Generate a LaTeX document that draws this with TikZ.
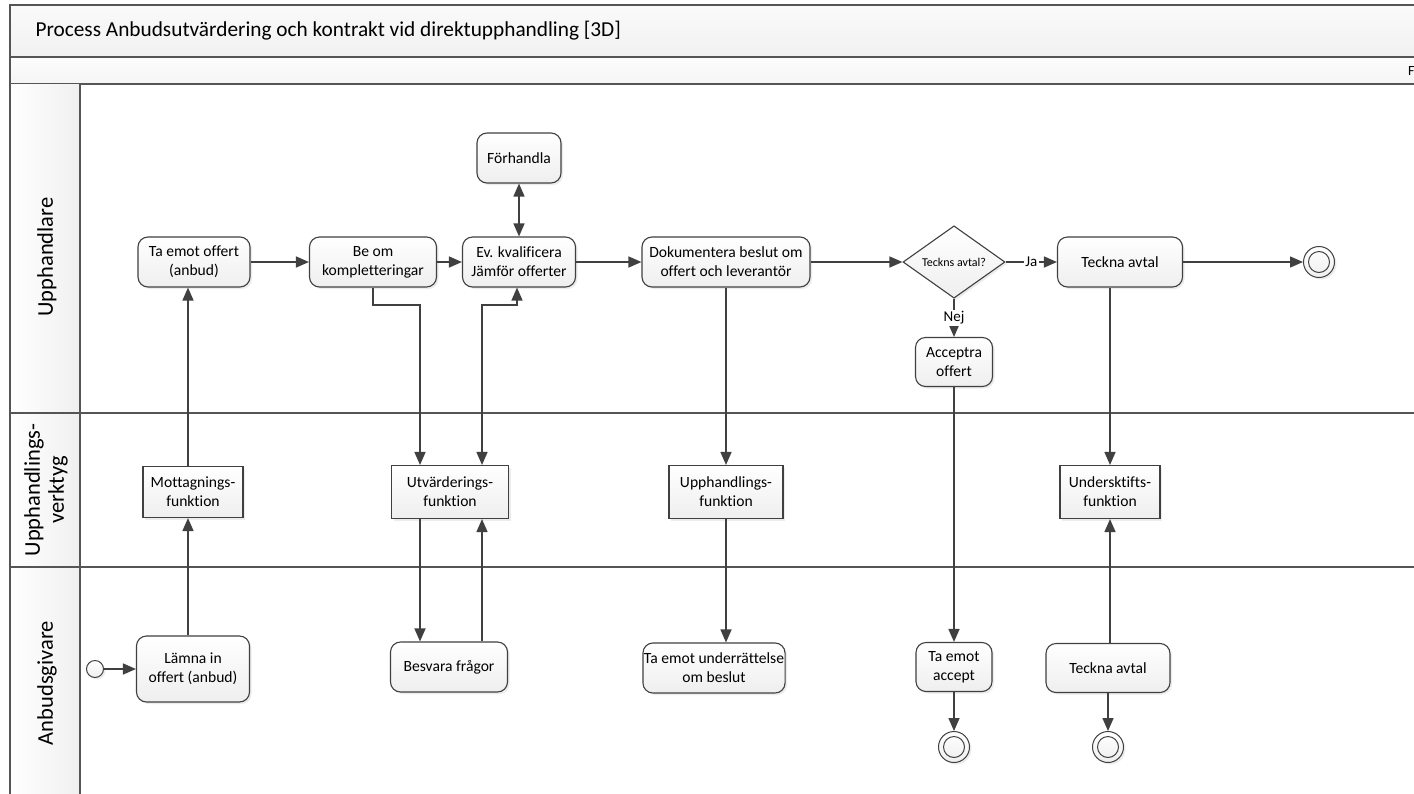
\documentclass[tikz,border=0pt]{standalone}
\usepackage{fontspec}
\setmainfont{Carlito}[Ligatures=NoCommon]
\usetikzlibrary{arrows.meta,shapes.geometric,shadows}
\definecolor{lc}{HTML}{404040}
\definecolor{frame}{HTML}{555555}
\newcommand{\nodefont}{\fontsize{15.6}{19}\selectfont}
\begin{document}
\begin{tikzpicture}[x=1pt,y=-1pt,
  line/.style={draw=lc, line width=1.5pt},
  flow/.style={line, -{Triangle[length=13pt,width=11pt]}},
  both/.style={line, {Triangle[length=13pt,width=11pt]}-{Triangle[length=13pt,width=11pt]}},
  shade/.style={top color=white, bottom color=gray!13,
    drop shadow={shadow xshift=2pt, shadow yshift=-2pt, opacity=0.15, fill=gray}},
  task/.style={draw=lc, line width=1.1pt, rounded corners=10pt, shade,
    align=center, font=\nodefont, inner sep=1pt},
  tool/.style={draw=lc, line width=1.1pt, shade,
    align=center, font=\nodefont, inner sep=2pt},
  gate/.style={draw=lc, line width=1.1pt, diamond, shade, inner sep=0pt,
    font=\fontsize{12}{14}\selectfont},
  endev/.style={draw=lc, line width=1pt, circle, minimum size=31pt, inner sep=0pt, shade,
    path picture={\draw[lc, line width=1pt] (path picture bounding box.center) circle (10.5pt);}},
  startev/.style={draw=lc, line width=1pt, circle, minimum size=17pt, inner sep=0pt, shade},
  lanelabel/.style={rotate=90, align=center, font=\fontsize{22.5}{24}\selectfont},
  flowlabel/.style={fill=white, inner sep=1.5pt, font=\fontsize{15}{17}\selectfont}
]
\useasboundingbox (0,0) rectangle (1414,793);
\fill[white] (0,0) rectangle (1414,793);

% pool header bands
\path[top color=gray!4, bottom color=gray!11, draw=frame, line width=1.1pt]
  (10,5) rectangle (1420,57);
\path[top color=gray!2, bottom color=gray!8, draw=frame, line width=1.1pt]
  (10,57) rectangle (1420,84);
\node[anchor=west, font=\fontsize{21.3}{25}\selectfont] (title) at (32,31)
  {Process Anbudsutvärdering och kontrakt vid direktupphandling [3D]};
\node[anchor=west, font=\fontsize{14}{16}\selectfont, inner sep=0pt] (hdr) at (1408,71) {F};

% lane header column
\path[left color=white, right color=gray!12] (10,84) rectangle (80,800);
\draw[frame, line width=1.1pt] (10,5) -- (10,800);
\draw[frame, line width=1.1pt] (80,84) -- (80,800);
\draw[frame, line width=1.1pt] (10,413) -- (1420,413);
\draw[frame, line width=1.1pt] (10,567) -- (1420,567);

\node[lanelabel] (l1) at (47,257) {Upphandlare};
\node[lanelabel] (l2) at (46,490) {Upphandlings-\\verktyg};
\node[lanelabel] (l3) at (47,683) {Anbudsgivare};

% lane: Upphandlare
\node[task, minimum width=112pt, minimum height=50pt] (taemot) at (194,262) {Ta emot offert\\(anbud)};
\node[task, minimum width=127pt, minimum height=50pt] (beom) at (373,262) {Be om\\kompletteringar};
\node[task, minimum width=113pt, minimum height=50pt] (ev) at (519,262) {Ev. kvalificera\\Jämför offerter};
\node[task, minimum width=84pt, minimum height=50pt] (forh) at (519,158) {Förhandla};
\node[task, minimum width=168pt, minimum height=50pt] (dok) at (726,262) {Dokumentera beslut om\\offert och leverantör};
\node[gate, minimum width=102pt, minimum height=63pt] (dia) at (954,262) {Teckns avtal?};
\node[task, minimum width=125pt, minimum height=50pt] (teck) at (1120,262) {Teckna avtal};
\node[endev] (end1) at (1319,262) {};
\node[task, minimum width=77pt, minimum height=49pt] (acc) at (954,362) {Acceptra\\offert};

% lane: Upphandlingsverktyg
\node[tool, minimum width=100pt, minimum height=51pt] (mott) at (193,492) {Mottagnings-\\funktion};
\node[tool, minimum width=117pt, minimum height=53pt] (utv) at (450,492) {Utvärderings-\\funktion};
\node[tool, minimum width=114pt, minimum height=53pt] (upph) at (726,492) {Upphandlings-\\funktion};
\node[tool, minimum width=100pt, minimum height=53pt] (unders) at (1110,492) {Undersktifts-\\funktion};

% lane: Anbudsgivare
\node[startev] (start) at (95,669) {};
\node[task, minimum width=113pt, minimum height=66pt] (lamna) at (193,669) {Lämna in\\offert (anbud)};
\node[task, minimum width=117pt, minimum height=50pt] (besv) at (449,667) {Besvara frågor};
\node[task, minimum width=130pt, minimum height=50pt] (tau) at (714,668) {Ta emot underrättelse\\om beslut};
\node[task, minimum width=76pt, minimum height=49pt] (tea) at (954,667) {Ta emot\\accept};
\node[task, minimum width=124pt, minimum height=49pt] (teck2) at (1108,668) {Teckna avtal};
\node[endev] (end3) at (954,747) {};
\node[endev] (end4) at (1108,747) {};

% bend points
\coordinate (b1) at (373,305);
\coordinate (b2) at (420,305);
\coordinate (b3) at (482,305);
\coordinate (b4) at (517,305);

% connectors
\draw[flow] (start) -- (lamna);
\draw[flow] ([xshift=-5pt]lamna.north) -- ([xshift=-5pt]mott.south);
\draw[flow] ([xshift=-5pt]mott.north) -- ([xshift=-6pt]taemot.south);
\draw[flow] (taemot) -- (beom);
\draw[flow] (beom) -- (ev);
\draw[flow] (beom.south) -- (b1) -- (b2) -- ([xshift=-30pt]utv.north);
\draw[both] ([xshift=32pt]utv.north) -- (b3) -- (b4) -- ([xshift=-2pt]ev.south);
\draw[both] (ev.north) -- (forh.south);
\draw[flow] ([xshift=-30pt]utv.south) -- ([xshift=-29pt]besv.north);
\draw[flow] ([xshift=33pt]besv.north) -- ([xshift=32pt]utv.south);
\draw[flow] (ev) -- (dok);
\draw[flow] (dok) -- (dia);
\draw[flow] (dok.south) -- (upph.north);
\draw[flow] (upph.south) -- (upph.south |- tau.north);
\draw[flow] (dia.east) -- node[flowlabel] (ja) {Ja} (teck.west);
\draw[flow] (dia.south) -- node[flowlabel] (nej) {Nej} (acc.north);
\draw[flow] (acc.south) -- (tea.north);
\draw[flow] (tea.south) -- (end3.north);
\draw[flow] (teck) -- (end1);
\draw[flow] (teck.south -| unders.north) -- (unders.north);
\draw[flow] (teck2.north -| unders.south) -- (unders.south);
\draw[flow] (teck2.south) -- (end4.north);
\end{tikzpicture}
\end{document}
